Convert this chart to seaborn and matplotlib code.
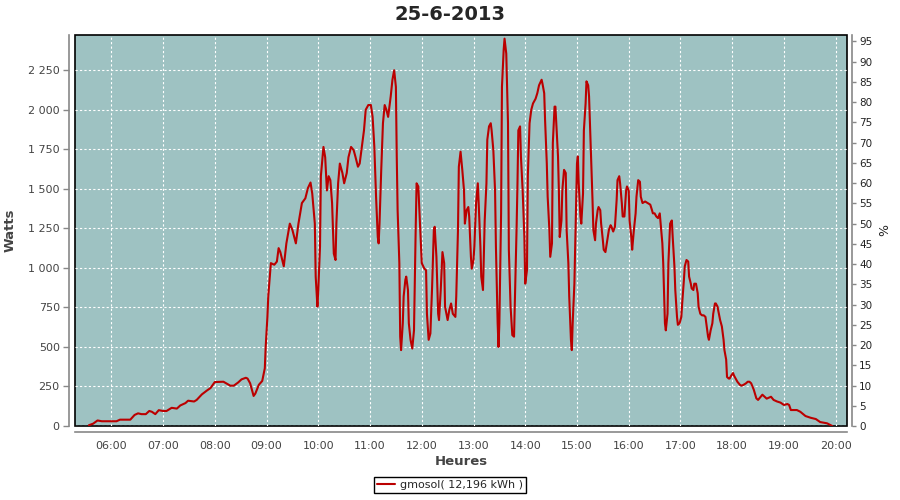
import matplotlib.pyplot as plt
import matplotlib.ticker as mticker
import pandas as pd
import seaborn as sns

sns.set_theme(style="white")
plt.rcParams["font.family"] = ["DejaVu Sans"]

title = "25-6-2013"
series_label = "gmosol( 12,196 kWh )"

# production curve (time, watts)
times = [
    "05:34", "05:39", "05:44", "05:49", "06:06", "06:10", "06:22", "06:27", "06:31", "06:35",
    "06:40", "06:44", "06:47", "06:51", "06:55", "07:00", "07:04", "07:10", "07:16", "07:20",
    "07:26", "07:29", "07:36", "07:39", "07:45", "07:51", "07:55", "08:00", "08:10", "08:18",
    "08:22", "08:27", "08:31", "08:36", "08:38", "08:41", "08:45", "08:47", "08:51", "08:55",
    "08:58", "08:59", "09:01", "09:02", "09:04", "09:05", "09:09", "09:12", "09:14", "09:16",
    "09:20", "09:23", "09:27", "09:30", "09:34", "09:37", "09:41", "09:45", "09:48", "09:51",
    "09:53", "09:56", "09:57", "09:59", "10:00", "10:02", "10:03", "10:06", "10:08", "10:10",
    "10:12", "10:14", "10:16", "10:18", "10:20", "10:21", "10:23", "10:25", "10:28", "10:30",
    "10:33", "10:35", "10:38", "10:41", "10:43", "10:46", "10:48", "10:50", "10:53", "10:55",
    "10:58", "11:01", "11:03", "11:05", "11:07", "11:09", "11:10", "11:11", "11:13", "11:15",
    "11:17", "11:19", "11:21", "11:24", "11:26", "11:28", "11:30", "11:31", "11:32", "11:34",
    "11:35", "11:36", "11:38", "11:39", "11:41", "11:42", "11:44", "11:45", "11:47", "11:49",
    "11:51", "11:53", "11:54", "11:56", "11:58", "12:00", "12:03", "12:05", "12:06", "12:08",
    "12:10", "12:12", "12:14", "12:15", "12:17", "12:19", "12:20", "12:22", "12:24", "12:26",
    "12:27", "12:30", "12:32", "12:34", "12:36", "12:39", "12:40", "12:42", "12:43", "12:45",
    "12:47", "12:49", "12:50", "12:52", "12:54", "12:55", "12:57", "12:58", "13:00", "13:01",
    "13:03", "13:05", "13:06", "13:08", "13:09", "13:11", "13:12", "13:13", "13:15", "13:16",
    "13:18", "13:20", "13:21", "13:23", "13:25", "13:26", "13:28", "13:29", "13:30", "13:32",
    "13:33", "13:35", "13:36", "13:38", "13:40", "13:41", "13:43", "13:45", "13:47", "13:48",
    "13:50", "13:51", "13:52", "13:54", "13:55", "13:57", "13:59", "14:00", "14:02", "14:03",
    "14:05", "14:07", "14:09", "14:12", "14:14", "14:16", "14:19", "14:20", "14:22", "14:23",
    "14:25", "14:26", "14:28", "14:29", "14:31", "14:32", "14:34", "14:35", "14:36", "14:38",
    "14:39", "14:40", "14:42", "14:43", "14:45", "14:47", "14:48", "14:50", "14:51", "14:53",
    "14:54", "14:55", "14:57", "14:58", "14:59", "15:00", "15:01", "15:02", "15:04", "15:05",
    "15:07", "15:08", "15:10", "15:11", "15:13", "15:14", "15:16", "15:18", "15:19", "15:21",
    "15:22", "15:24", "15:25", "15:27", "15:28", "15:30", "15:31", "15:33", "15:34", "15:37",
    "15:39", "15:40", "15:42", "15:44", "15:46", "15:47", "15:49", "15:50", "15:52", "15:53",
    "15:55", "15:57", "15:58", "16:00", "16:01", "16:03", "16:04", "16:06", "16:08", "16:09",
    "16:11", "16:13", "16:14", "16:16", "16:19", "16:22", "16:25", "16:27", "16:28", "16:30",
    "16:32", "16:34", "16:36", "16:37", "16:39", "16:40", "16:42", "16:43", "16:45", "16:46",
    "16:48", "16:50", "16:51", "16:53", "16:54", "16:56", "16:57", "16:59", "17:01", "17:02",
    "17:04", "17:05", "17:07", "17:09", "17:10", "17:12", "17:13", "17:15", "17:16", "17:18",
    "17:20", "17:21", "17:23", "17:25", "17:27", "17:29", "17:30", "17:32", "17:33", "17:35",
    "17:37", "17:38", "17:40", "17:41", "17:43", "17:44", "17:46", "17:48", "17:50", "17:51",
    "17:53", "17:54", "17:56", "17:57", "17:59", "18:01", "18:02", "18:04", "18:06", "18:09",
    "18:11", "18:13", "18:16", "18:18", "18:20", "18:22", "18:25", "18:28", "18:30", "18:35",
    "18:40", "18:45", "18:48", "18:52", "18:56", "19:00", "19:04", "19:06", "19:08", "19:15",
    "19:19", "19:25", "19:31", "19:37", "19:42", "19:50", "19:54", "19:56",
]
watts = [
    5, 15, 35, 30, 30, 40, 40, 70, 80, 75,
    75, 95, 90, 75, 100, 95, 95, 115, 110, 130,
    145, 160, 155, 165, 200, 225, 240, 278, 280, 255,
    255, 275, 295, 305, 300, 270, 190, 205, 260, 285,
    365, 500, 690, 820, 965, 1030, 1020, 1040, 1125, 1100,
    1010, 1155, 1280, 1240, 1155, 1280, 1410, 1440, 1505, 1540,
    1470, 1280, 945, 755, 860, 1135, 1580, 1765, 1700, 1490,
    1580, 1555, 1410, 1090, 1050, 1280, 1535, 1660, 1600, 1535,
    1600, 1700, 1765, 1745, 1705, 1640, 1660, 1745, 1870, 2000,
    2030, 2030, 1955, 1765, 1450, 1195, 1155, 1280, 1620, 1915,
    2030, 2000, 1955, 2085, 2190, 2250, 2145, 1705, 1365, 1030,
    565, 480, 650, 820, 925, 945, 860, 650, 545, 490,
    605, 1260, 1535, 1515, 1280, 1030, 995, 985, 710, 545,
    585, 880, 1240, 1260, 1070, 710, 670, 860, 1100, 1030,
    755, 670, 735, 775, 710, 690, 820, 1240, 1640, 1735,
    1620, 1490, 1280, 1365, 1385, 1325, 1070, 995, 1050, 1135,
    1410, 1535, 1410, 1135, 945, 860, 1070, 1300, 1535, 1810,
    1895, 1915, 1870, 1745, 1490, 1135, 650, 500, 650, 1345,
    2145, 2380, 2450, 2355, 1915, 1115, 755, 575, 565, 795,
    1260, 1535, 1870, 1895, 1705, 1490, 1195, 900, 985, 1580,
    1915, 2000, 2040, 2070, 2105, 2155, 2190, 2165, 2105, 1935,
    1660, 1450, 1240, 1070, 1155, 1790, 2020, 2020, 1915, 1705,
    1490, 1195, 1300, 1490, 1620, 1600, 1240, 1030, 820, 545,
    480, 650, 900, 1155, 1430, 1660, 1705, 1535, 1325, 1280,
    1470, 1870, 2040, 2180, 2155, 2085, 1765, 1430, 1240, 1175,
    1280, 1365, 1385, 1365, 1280, 1175, 1115, 1100, 1135, 1240,
    1270, 1260, 1230, 1260, 1430, 1555, 1580, 1535, 1410, 1325,
    1325, 1490, 1515, 1490, 1300, 1195, 1115, 1240, 1345, 1450,
    1555, 1545, 1450, 1410, 1420, 1410, 1400, 1365, 1345, 1345,
    1325, 1315, 1345, 1280, 1155, 1030, 650, 605, 710, 1030,
    1280, 1300, 1195, 1010, 860, 690, 640, 650, 690, 775,
    925, 1010, 1050, 1040, 945, 900, 870, 860, 900, 900,
    840, 755, 710, 700, 700, 690, 650, 565, 545, 605,
    650, 710, 775, 775, 755, 725, 670, 630, 545, 480,
    420, 310, 300, 300, 320, 335, 320, 300, 280, 260,
    255, 260, 270, 280, 280, 270, 230, 175, 165, 198,
    173, 185, 165, 155, 148, 133, 139, 133, 101, 101,
    90, 63, 52, 44, 25, 17, 6, 0,
]

hour_ticks = list(range(6, 21))
hour_labels = [f"{h:02d}:00" for h in hour_ticks]
watt_ticks = list(range(0, 2251, 250))
pct_ticks = list(range(0, 96, 5))
peak_watts = 2560  # 100 % on the right axis

df = pd.DataFrame({"time": times, "watts": watts})
hm = df["time"].str.split(":", expand=True).astype(int)
df["hour"] = hm[0] + hm[1] / 60

fig = plt.figure(figsize=(9, 5), dpi=100)
ax = fig.add_axes([75 / 900, 74 / 500, 771.7 / 900, 391 / 500])
ax.set_facecolor("#9ec2c2")
ax.patch.set_edgecolor("black")
ax.patch.set_linewidth(1.2)

sns.lineplot(data=df, x="hour", y="watts", ax=ax, color="#bb0000", linewidth=1.5,
             sort=False, estimator=None, label=series_label, legend=False)

ax.set_xlim(5.298, 20.213)
ax.set_ylim(0, 2473)
ax.set_xticks(hour_ticks, hour_labels)
ax.set_yticks(watt_ticks)
ax.yaxis.set_major_formatter(mticker.FuncFormatter(lambda v, _: f"{v:,.0f}".replace(",", " ")))
ax.grid(True, color="white", linestyle=(0, (2, 2)), linewidth=0.8)

for side in ["top", "right"]:
    ax.spines[side].set_visible(False)
for side in ["left", "bottom"]:
    ax.spines[side].set_position(("outward", 4))
    ax.spines[side].set_color("#888888")
    ax.spines[side].set_linewidth(1.2)
ax.tick_params(axis="both", direction="out", length=4, width=1, color="#888888",
               labelsize=8, labelcolor="#444444", pad=3)

ax.set_xlabel("Heures", fontsize=9.5, fontweight="bold", color="#444444", labelpad=3)
ax.set_ylabel("Watts", fontsize=9.5, fontweight="bold", color="#444444", labelpad=8)

ax2 = ax.twinx()
ax2.set_ylim(0, 2473 / peak_watts * 100)
ax2.set_yticks(pct_ticks)
for side in ["top", "left", "bottom"]:
    ax2.spines[side].set_visible(False)
ax2.spines["right"].set_position(("outward", 4))
ax2.spines["right"].set_color("#888888")
ax2.spines["right"].set_linewidth(1.2)
ax2.tick_params(axis="y", direction="out", length=3, width=1, color="#888888",
                labelsize=7.5, labelcolor="#222222", pad=2)
ax2.set_ylabel("%", fontsize=9, color="#222222", labelpad=4)

fig.text(0.5, 1 - 14 / 500, title, ha="center", va="center", fontsize=14, fontweight="bold")

handles, labels = ax.get_legend_handles_labels()
leg = fig.legend(handles, labels, loc="lower center", bbox_to_anchor=(0.5, 0.002),
                 frameon=True, fancybox=False, edgecolor="black", framealpha=1,
                 fontsize=8, handlelength=1.6, borderpad=0.3, handletextpad=0.4)
leg.get_frame().set_linewidth(1)

fig.savefig("out.png", dpi=100)
